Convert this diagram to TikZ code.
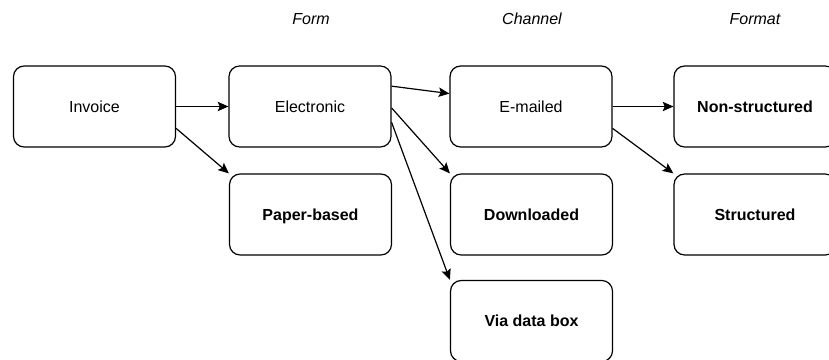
\documentclass[tikz,border=0pt]{standalone}
\usepackage{fontspec}
\setmainfont{Liberation Sans}
\usetikzlibrary{arrows.meta}
\begin{document}
\begin{tikzpicture}[x=0.75pt,y=-0.75pt,every path/.style={>={Stealth[length=8pt,width=7pt,inset=1.5pt]}},
  every node/.style={draw,rectangle,rounded corners=8pt,line width=0.9pt,text height=8.6pt,text depth=0pt,
    minimum width=121.5pt,minimum height=60.75pt,font=\fontsize{12}{14}\selectfont}]
\useasboundingbox (0,0) rectangle (829,360);
\node[draw=none,minimum width=0pt,minimum height=0pt,font=\fontsize{12}{14}\selectfont\itshape] at (311,19) { Form };
\node[draw=none,minimum width=0pt,minimum height=0pt,font=\fontsize{12}{14}\selectfont\itshape] at (532,19) { Channel };
\node[draw=none,minimum width=0pt,minimum height=0pt,font=\fontsize{12}{14}\selectfont\itshape] at (755,19) { Format };
\node            (inv)   at (94.5,106.5)  { Invoice };
\node            (elec)  at (310,106.5)   { Electronic };
\node            (paper) at (310.5,214.5) { \textbf{Paper-based} };
\node            (mail)  at (531,106.5)   { E-mailed };
\node            (down)  at (531.5,214.5) { \textbf{Downloaded} };
\node            (box)   at (531.5,321)   { \textbf{Via data box} };
\node            (nons)  at (755,106.5)   { \textbf{Non-structured} };
\node            (str)   at (755,214.5)   { \textbf{Structured} };
\draw[->, line width=0.9pt] (inv.east)   -- (elec.west);
\draw[->, line width=0.9pt] (inv.-15)    -- (paper.north west);
\draw[->, line width=0.9pt] (elec.14)    -- (mail.171);
\draw[->, line width=0.9pt] (elec.-1)    -- (down.north west);
\draw[->, line width=0.9pt] (elec.-11)   -- (box.north west);
\draw[->, line width=0.9pt] (mail.east)  -- (nons.west);
\draw[->, line width=0.9pt] (mail.-15)   -- (str.north west);
\end{tikzpicture}
\end{document}
